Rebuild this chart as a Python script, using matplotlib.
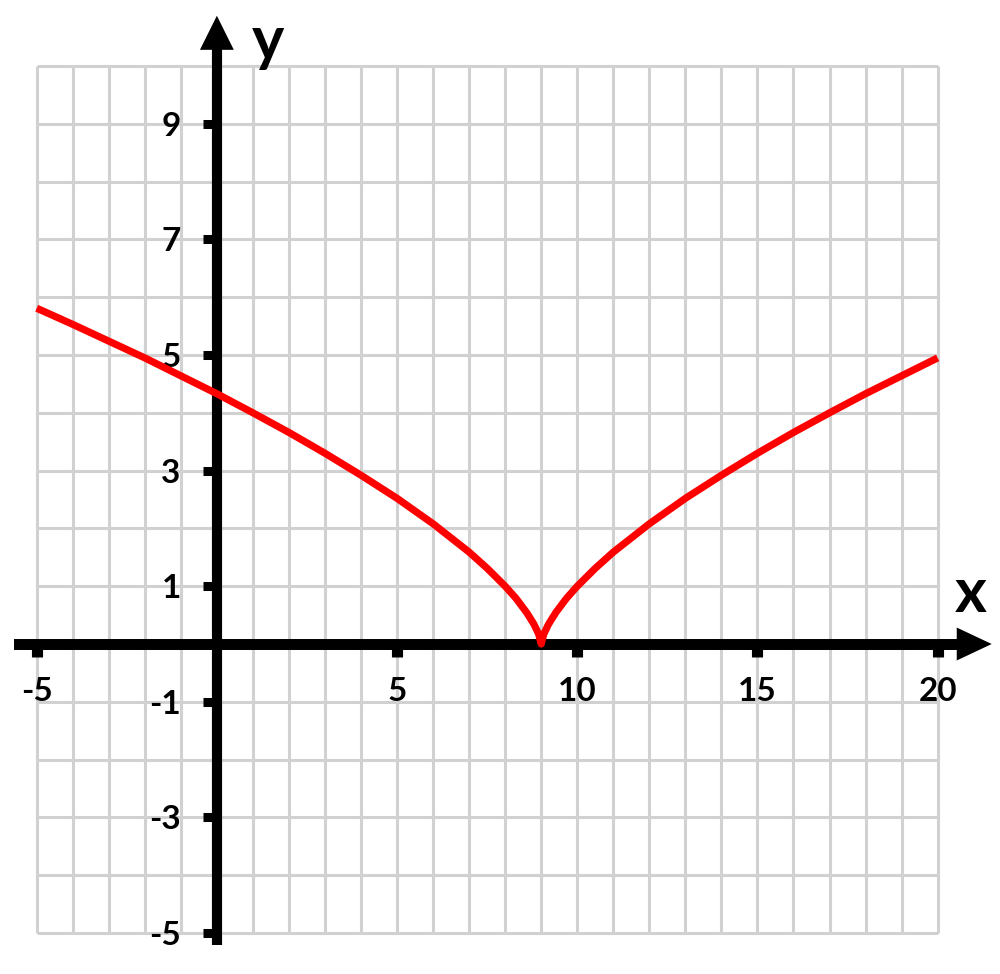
import matplotlib
matplotlib.use("Agg")
import matplotlib.pyplot as plt
from matplotlib.patches import Polygon

# curve points
curve_x = [-5, -4, -3, -2, -1, 0, 1, 2, 3, 4, 5, 6, 7, 7.5, 8, 8.3, 8.6, 8.8, 8.93, 9,
           9.07, 9.2, 9.4, 9.7, 10, 10.5, 11, 12, 13, 14, 15, 16, 17, 18, 19, 20]
curve_y = [5.81, 5.53, 5.24, 4.95, 4.64, 4.33, 4.0, 3.66, 3.30, 2.92, 2.52, 2.08, 1.59, 1.31, 1.0, 0.79, 0.54, 0.34, 0.17, 0.0,
           0.17, 0.34, 0.54, 0.79, 1.0, 1.31, 1.59, 2.08, 2.52, 2.92, 3.30, 3.66, 4.0, 4.33, 4.64, 4.95]

x_ticks = [-5, 5, 10, 15, 20]
x_tick_labels = ["-5", "5", "10", "15", "20"]
y_ticks = [-5, -3, -1, 1, 3, 5, 7, 9]
y_tick_labels = ["-5", "-3", "-1", "1", "3", "5", "7", "9"]
grid_x = list(range(-5, 21))
grid_y = list(range(-5, 11))

FONT = "Lato"
fig = plt.figure(figsize=(10, 9.74), dpi=100)
ax = fig.add_axes([0, 0, 1, 1])
ax.set_xlim(-6.018, 21.73)
ax.set_ylim(-5.709, 11.142)
for s in ["top", "right"]:
    ax.spines[s].set_visible(False)

# grid
grey = (0.82, 0.82, 0.82)
ax.vlines(grid_x, -5, 10, colors=[grey], linewidth=2.2, zorder=1)
ax.hlines(grid_y, -5, 20, colors=[grey], linewidth=2.2, zorder=1)

# axes spines through origin
ax.spines["left"].set_position(("data", 0))
ax.spines["bottom"].set_position(("data", 0))
ax.spines["left"].set_linewidth(7.3)
ax.spines["bottom"].set_linewidth(7.9)
ax.spines["left"].set_bounds(-5.21, 10.3)
ax.spines["bottom"].set_bounds(-5.49, 20.55)
ax.spines["left"].set_zorder(3)
ax.spines["bottom"].set_zorder(3)
ax.spines["left"].set_capstyle("butt")

ax.set_xticks(x_ticks)
ax.set_xticklabels(x_tick_labels)
ax.set_yticks(y_ticks)
ax.set_yticklabels(y_tick_labels)
ax.tick_params(axis="y", direction="out", length=10, width=6.5, pad=16,
               labelsize=24, colors="black")
ax.tick_params(axis="x", direction="out", length=9.4, width=8, pad=14,
               labelsize=24, colors="black")
for lab in ax.get_xticklabels() + ax.get_yticklabels():
    lab.set_fontfamily(FONT)
    lab.set_fontweight("bold")

# arrow heads
ax.add_patch(Polygon([(-0.47, 10.28), (0.47, 10.28), (0, 10.87)], closed=True,
                     facecolor="black", edgecolor="none", zorder=3))
ax.add_patch(Polygon([(20.53, 0.285), (20.53, -0.285), (21.5, 0)], closed=True,
                     facecolor="black", edgecolor="none", zorder=3))

# axis names
ax.text(1.415, 10.10, "y", fontsize=44, fontweight="bold", family=FONT,
        ha="center", va="baseline", zorder=4)
ax.text(20.92, 0.55, "x", fontsize=44, fontweight="bold", family=FONT,
        ha="center", va="baseline", zorder=4)

# curve
ax.plot(curve_x, curve_y, color="#ff0000", linewidth=5.2, solid_joinstyle="round",
        solid_capstyle="butt", zorder=5)

fig.savefig("out.png", dpi=100)
